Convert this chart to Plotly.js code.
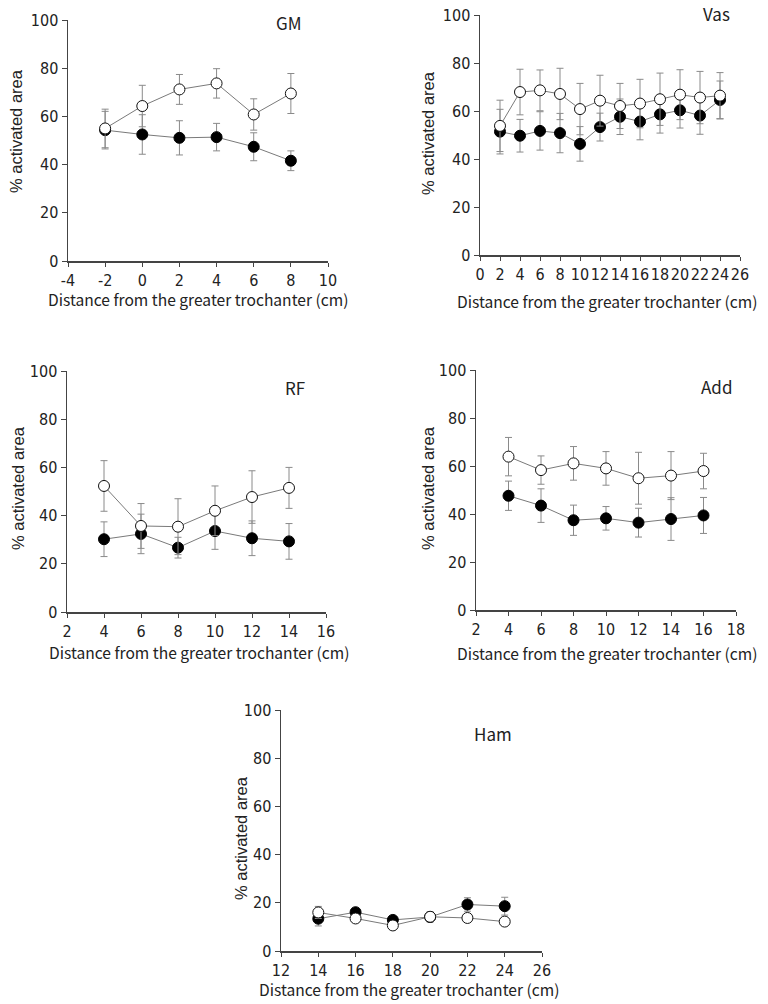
<!DOCTYPE html>
<html>
<head>
<meta charset="utf-8">
<script src="https://cdn.plot.ly/plotly-3.0.1.min.js"></script>
<style>html,body{margin:0;padding:0;background:#fff;}#chart{width:768px;height:1004px;}</style>
</head>
<body>
<div id="chart"></div>
<script>
// ---- data ----
const panelNames = ["GM", "Vas", "RF", "Add", "Ham"];

const gmX = [-2, 0, 2, 4, 6, 8];
const gmOpen = [55.0, 64.3, 71.2, 73.7, 60.8, 69.5];
const gmOpenErr = [8.0, 8.6, 6.2, 6.1, 6.5, 8.3];
const gmFilled = [54.3, 52.5, 51.1, 51.4, 47.4, 41.6];
const gmFilledErr = [7.8, 8.2, 7.1, 5.7, 5.8, 4.1];

const vasX = [2, 4, 6, 8, 10, 12, 14, 16, 18, 20, 22, 24];
const vasOpen = [53.8, 67.9, 68.6, 67.1, 60.8, 64.3, 62.1, 63.1, 64.9, 66.8, 65.6, 66.4];
const vasOpenErr = [10.7, 9.5, 8.5, 10.7, 10.7, 10.6, 9.4, 10.1, 10.9, 10.4, 10.9, 9.6];
const vasFilled = [51.4, 49.7, 51.7, 50.8, 46.3, 53.3, 57.6, 55.6, 58.6, 60.3, 58.1, 64.6];
const vasFilledErr = [9.3, 6.8, 8.0, 8.2, 7.2, 5.8, 7.4, 7.6, 7.8, 7.4, 7.8, 7.9];

const rfX = [4, 6, 8, 10, 12, 14];
const rfOpen = [52.3, 35.7, 35.4, 42.0, 47.7, 51.5];
const rfOpenErr = [10.5, 9.3, 11.6, 10.3, 10.9, 8.5];
const rfFilled = [30.2, 32.4, 26.7, 33.6, 30.6, 29.3];
const rfFilledErr = [7.2, 8.2, 4.3, 7.6, 7.2, 7.4];

const addX = [4, 6, 8, 10, 12, 14, 16];
const addOpen = [63.9, 58.3, 61.1, 59.0, 54.9, 56.0, 57.9];
const addOpenErr = [8.0, 5.9, 7.0, 7.0, 10.8, 10.0, 7.4];
const addFilled = [47.6, 43.5, 37.4, 38.2, 36.4, 37.9, 39.4];
const addFilledErr = [6.1, 7.0, 6.3, 4.9, 6.0, 8.9, 7.5];

const hamX = [14, 16, 18, 20, 22, 24];
const hamOpen = [16.0, 13.5, 10.6, 14.2, 13.7, 12.2];
const hamOpenErr = [2.5, 1.5, 1.5, 2.0, 1.5, 1.5];
const hamFilled = [13.4, 16.1, 12.9, 14.1, 19.3, 18.6];
const hamFilledErr = [3.0, 1.5, 1.5, 2.0, 2.8, 3.7];

// x tick values and labels per panel
const gmTicks = [-4, -2, 0, 2, 4, 6, 8, 10];
const vasTicks = [0, 2, 4, 6, 8, 10, 12, 14, 16, 18, 20, 22, 24, 26];
const rfTicks = [2, 4, 6, 8, 10, 12, 14, 16];
const addTicks = [2, 4, 6, 8, 10, 12, 14, 16, 18];
const hamTicks = [12, 14, 16, 18, 20, 22, 24, 26];
const yTicks = [0, 20, 40, 60, 80, 100];

const xTitle = "Distance from the greater trochanter (cm)";
const yTitle = "% activated area";

// ---- layout geometry (pixels) ----
const W = 768, H = 1004;
const boxes = [
  {x0: 68, x1: 328, y0: 20, y1: 261},
  {x0: 480, x1: 740, y0: 15, y1: 255},
  {x0: 67, x1: 326, y0: 371, y1: 612},
  {x0: 476, x1: 736, y0: 370, y1: 610},
  {x0: 281, x1: 542, y0: 710, y1: 951}
];
const titlePos = [[289, 23], [716, 14], [295, 387], [716, 386], [493, 733]];
const xTitlePos = [[198, 299], [607, 301], [199, 652], [607, 653], [409, 989]];
const yTitlePos = [[16, 131], [428, 133], [18, 488], [428, 488], [241, 838]];

const series = [
  [gmX, gmOpen, gmOpenErr, gmFilled, gmFilledErr, gmTicks],
  [vasX, vasOpen, vasOpenErr, vasFilled, vasFilledErr, vasTicks],
  [rfX, rfOpen, rfOpenErr, rfFilled, rfFilledErr, rfTicks],
  [addX, addOpen, addOpenErr, addFilled, addFilledErr, addTicks],
  [hamX, hamOpen, hamOpenErr, hamFilled, hamFilledErr, hamTicks]
];

const tickFont = {family: "Liberation Sans Narrow, DejaVu Sans Condensed, Arial Narrow, Liberation Sans, sans-serif", size: 16, color: "#222"};
const xTitleFont = {family: "Noto Sans CJK JP, Noto Sans, sans-serif", size: 15.6, color: "#222"};
const yTitleFont = {family: "Liberation Sans, Arial, sans-serif", size: 16.5, color: "#222"};
const axisColor = "#444";
const lineColor = "#7a7a7a";
const errColor = "#8a8a8a";

const traces = [];
const layout = {
  width: W, height: H,
  margin: {l: 0, r: 0, t: 0, b: 0},
  paper_bgcolor: "#fff", plot_bgcolor: "#fff",
  showlegend: false,
  annotations: []
};

function ann(text, px, py, font, angle) {
  return {
    xref: "paper", yref: "paper", x: px / W, y: 1 - py / H,
    xanchor: "center", yanchor: "middle", showarrow: false,
    borderpad: 0,
    text: text, font: font, textangle: angle || 0
  };
}

series.forEach((s, i) => {
  const n = i === 0 ? "" : String(i + 1);
  const xa = "x" + n, ya = "y" + n;
  const [xs, op, opE, fi, fiE, ticks] = s;
  traces.push({
    x: xs, y: fi, xaxis: xa, yaxis: ya, type: "scatter", mode: "lines+markers",
    name: panelNames[i] + " filled",
    line: {color: lineColor, width: 1},
    marker: {symbol: "circle", size: 11, color: "#000", line: {color: "#000", width: 1}},
    error_y: {type: "data", array: fiE, visible: true, color: errColor, thickness: 1, width: 3.5},
    cliponaxis: false
  });
  traces.push({
    x: xs, y: op, xaxis: xa, yaxis: ya, type: "scatter", mode: "lines+markers",
    name: panelNames[i] + " open",
    line: {color: lineColor, width: 1},
    marker: {symbol: "circle", size: 11, color: "#fff", line: {color: "#111", width: 1}},
    error_y: {type: "data", array: opE, visible: true, color: errColor, thickness: 1, width: 3.5},
    cliponaxis: false
  });
  const b = boxes[i];
  layout["xaxis" + n] = {
    domain: [b.x0 / W, b.x1 / W],
    anchor: ya, range: [ticks[0], ticks[ticks.length - 1]],
    tickmode: "array", tickvals: ticks, ticktext: ticks.map(v => String(v)),
    tickangle: 0,
    showline: true, linecolor: axisColor, linewidth: 1.5,
    ticks: "outside", ticklen: 4, tickwidth: 1, tickcolor: axisColor,
    showgrid: false, zeroline: false, tickfont: tickFont,
    automargin: false, fixedrange: true
  };
  layout["yaxis" + n] = {
    domain: [1 - b.y1 / H, 1 - b.y0 / H],
    anchor: xa, range: [0, 100],
    tickmode: "array", tickvals: yTicks, ticktext: yTicks.map(v => String(v)),
    showline: true, linecolor: axisColor, linewidth: 1.5,
    ticks: "outside", ticklen: 5, tickwidth: 1, tickcolor: axisColor,
    showgrid: false, zeroline: false, tickfont: tickFont,
    automargin: false, fixedrange: true
  };
  layout.annotations.push(ann(panelNames[i], titlePos[i][0], titlePos[i][1],
    {family: "Noto Sans CJK JP, Noto Sans, sans-serif", size: 17, color: "#222"}));
  layout.annotations.push(ann(xTitle, xTitlePos[i][0], xTitlePos[i][1], xTitleFont));
  layout.annotations.push(ann(yTitle, yTitlePos[i][0], yTitlePos[i][1], yTitleFont, -90));
});

Plotly.newPlot("chart", traces, layout, {displayModeBar: false, staticPlot: true});
</script>
</body>
</html>
